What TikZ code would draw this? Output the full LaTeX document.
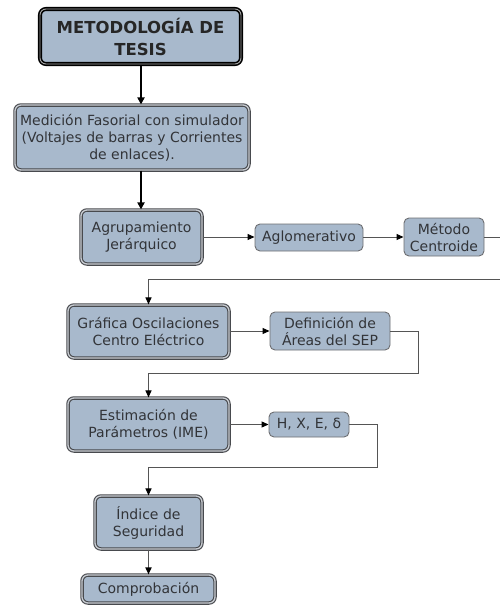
\documentclass[tikz,border=0pt]{standalone}
\usepackage{fontspec}
\setmainfont{DejaVu Sans}
\usetikzlibrary{arrows.meta}
\definecolor{boxfill}{RGB}{168,185,204}
\definecolor{boxline}{RGB}{72,74,78}
\definecolor{gapcol}{RGB}{200,204,210}
\definecolor{txt}{RGB}{50,52,56}
\definecolor{conn}{RGB}{85,85,85}
\tikzset{
  base/.style={rounded corners=6pt, fill=boxfill, align=center, text=txt, inner sep=0pt,
    font=\fontsize{14}{17}\selectfont},
  titlebox/.style={base, draw=black, line width=1.6pt, double=gray!70, double distance=0.9pt,
    font=\bfseries\fontsize{16.5}{22}\selectfont, text=black!85},
  mainbox/.style={base, draw=boxline, line width=1.1pt, double=gapcol, double distance=1.3pt},
  subbox/.style={base, draw=boxline!80, line width=0.9pt, rounded corners=5pt},
  bigarrow/.style={draw=black, line width=2.2pt, -{Triangle[length=7pt,width=7pt]}},
  thinarrow/.style={draw=conn, line width=1pt, -{Triangle[length=7pt,width=6pt,black]}},
  thinline/.style={draw=conn, line width=1pt}
}
\begin{document}
\begin{tikzpicture}[x=1pt,y=-1pt]
\useasboundingbox (0,0) rectangle (500,605);
\node[titlebox, minimum width=201pt, minimum height=55pt] (title) at (140.5,36.5) {METODOLOGÍA DE\\TESIS};
\node[mainbox, minimum width=234pt, minimum height=65pt] (med) at (132,137.5) {Medición Fasorial con simulador\\(Voltajes de barras y Corrientes\\de enlaces).};
\node[mainbox, minimum width=121pt, minimum height=54pt] (agr) at (141.5,237) {Agrupamiento\\Jerárquico};
\node[subbox, minimum width=108pt, minimum height=27pt] (aglo) at (309,237.5) {Aglomerativo};
\node[subbox, minimum width=80pt, minimum height=38pt] (met) at (444,237) {Método\\Centroide};
\node[mainbox, minimum width=161pt, minimum height=53pt] (graf) at (148.5,331.5) {Gráfica Oscilaciones\\Centro Eléctrico};
\node[subbox, minimum width=120pt, minimum height=38pt] (def) at (330,331) {Definición de\\Áreas del SEP};
\node[mainbox, minimum width=161pt, minimum height=53pt] (est) at (148.5,424.5) {Estimación de\\Parámetros (IME)};
\node[subbox, minimum width=80pt, minimum height=25pt] (hx) at (309,424.5) {H, X, E, δ};
\node[mainbox, minimum width=107pt, minimum height=53pt] (ind) at (148.5,522.5) {Índice de\\Seguridad};
\node[mainbox, minimum width=133pt, minimum height=28pt] (comp) at (148.5,589) {Comprobación};

\coordinate (c1) at (505,237);
\coordinate (c2) at (505,279.5);
\coordinate (c3) at (418,331);
\coordinate (c4) at (418,373);
\coordinate (c5) at (377,424.5);
\coordinate (c6) at (377,467);

\draw[bigarrow] (title.south -| 141,0) -- (med.north -| 141,0);
\draw[bigarrow] (med.south -| 141,0) -- (agr.north -| 141,0);
\draw[thinarrow] (agr.east) -- (agr.east -| aglo.west);
\draw[thinarrow] (aglo.east |- met.west) -- (met.west);
\draw[thinarrow] (met.east) -- (c1) -- (c2) -- (c2 -| graf.north) -- (graf.north);
\draw[thinarrow] (graf.east |- def.west) -- (def.west);
\draw[thinarrow] (def.east) -- (c3) -- (c4) -- (c4 -| est.north) -- (est.north);
\draw[thinarrow] (est.east |- hx.west) -- (hx.west);
\draw[thinarrow] (hx.east) -- (c5) -- (c6) -- (c6 -| ind.north) -- (ind.north);
\draw[thinarrow, line width=1.6pt] (ind.south) -- (comp.north);
\end{tikzpicture}
\end{document}
